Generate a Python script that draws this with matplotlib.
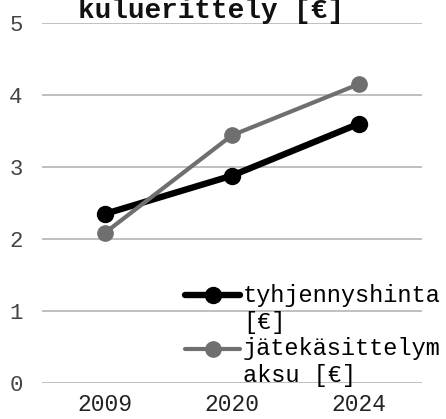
import matplotlib
matplotlib.use('Agg')
import matplotlib.pyplot as plt
from matplotlib.legend_handler import HandlerLine2D

years = ['2009', '2020', '2024']
tyhjennyshinta = [2.35, 2.88, 3.60]
jatekasittely = [2.09, 3.44, 4.15]
labels = ['tyhjennyshinta\n[€]', 'jätekäsittelym\naksu [€]']
title = 'kuluerittely [€]'

MONO = 'Liberation Mono'


class TopLineHandler(HandlerLine2D):
    # put the legend handle next to the first text line instead of the middle
    def create_artists(self, legend, orig_handle, xdescent, ydescent,
                       width, height, fontsize, trans):
        artists = super().create_artists(legend, orig_handle, xdescent, ydescent,
                                         width, height, fontsize, trans)
        shift = 0.6 * fontsize
        for a in artists:
            a.set_ydata([y + shift for y in a.get_ydata()])
        return artists


fig = plt.figure(figsize=(4.46, 4.19), dpi=100)
ax = fig.add_axes([42 / 446, 1 - 383 / 419, 380 / 446, 360 / 419])

x = range(len(years))
l1, = ax.plot(x, tyhjennyshinta, color='black', lw=4.6, marker='o',
              markersize=11.5, solid_capstyle='round', zorder=3)
l2, = ax.plot(x, jatekasittely, color='#6f6f6f', lw=3.0, marker='o',
              markersize=11, solid_capstyle='round', zorder=4)

ax.set_xlim(-0.5, 2.5)
ax.set_ylim(0, 5)
ax.set_xticks(list(x))
ax.set_xticklabels(years)
ax.set_yticks([0, 1, 2, 3, 4, 5])
ax.tick_params(axis='both', length=0)
ax.tick_params(axis='y', pad=14, labelsize=16, labelcolor='#444444')
ax.tick_params(axis='x', pad=7, labelsize=16.5, labelcolor='#222222')
for lab in ax.get_xticklabels() + ax.get_yticklabels():
    lab.set_fontfamily(MONO)
ax.grid(axis='y', color='#b5b5b5', lw=1.2)
ax.set_axisbelow(True)
for s in ax.spines.values():
    s.set_visible(False)

leg = ax.legend([l1, l2], labels, loc='upper left',
                bbox_to_anchor=(185 / 446, 1 - 284 / 419),
                bbox_transform=fig.transFigure, frameon=False,
                borderpad=0, borderaxespad=0, handlelength=2.35,
                handletextpad=0.1, labelspacing=0.15,
                prop={'family': MONO, 'size': 17},
                handler_map={l1: TopLineHandler(), l2: TopLineHandler()})

fig.text(0.473, 1 - 18 / 419, title, ha='center', va='baseline',
         family=MONO, weight='bold', fontsize=20, color='#111111')

fig.savefig('out.png', dpi=100, facecolor='white')
